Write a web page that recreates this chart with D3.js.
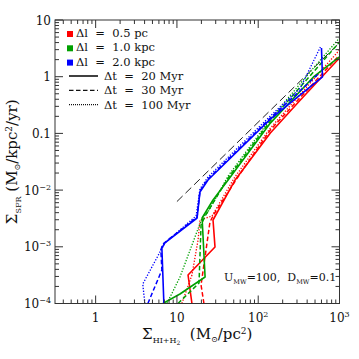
<!DOCTYPE html>
<html><head><meta charset="utf-8">
<script src="https://cdn.jsdelivr.net/npm/d3@7"></script>
<style>body{margin:0;background:#fff}svg{display:block}text{font-family:"DejaVu Serif",serif;fill:#111}</style>
</head><body>
<script>
// ---- data ----
const xTicks = [1, 10, 100, 1000];
const xTickLabels = [["1",""],["10",""],["10","2"],["10","3"]];
const yTicks = [10, 1, 0.1, 0.01, 0.001, 0.0001];
const yTickLabels = [["10",""],["1",""],["0.1",""],["10","\u22122"],["10","\u22123"],["10","\u22124"]];

const blueSolidX  = [6.91, 6.53, 7.11, 17.7, 19.2, 24.1, 141, 617, 600];
const blueSolidY  = [1.0e-4, 9.53e-4, 1.17e-3, 3.22e-3, 9.24e-3, 0.0151, 0.179, 0.99, 3.21];
const blueDashX   = [4.39, 6.53, 6.34, 6.71, 17.7, 19.2, 24.1, 141, 551];
const blueDashY   = [1.0e-4, 3.90e-4, 8.79e-4, 1.12e-3, 3.36e-3, 9.63e-3, 0.0157, 0.187, 1.12];
const blueDotX    = [4.03, 3.80, 7.11, 17.2, 19.2, 24.1, 141, 330, 582];
const blueDotY    = [1.0e-4, 2.21e-4, 1.17e-3, 3.49e-3, 0.0104, 0.0170, 0.203, 0.632, 3.34];

const greenSolidX = [6.71, 10.9, 22.2, 20.4, 27.8, 42.6, 141, 478, 1000];
const greenSolidY = [1.0e-4, 1.47e-4, 2.93e-4, 3.22e-3, 6.69e-3, 0.0151, 0.152, 0.99, 2.23];
const greenDashX  = [10.3, 18.7, 19.8, 22.2, 42.6, 141, 478, 1000];
const greenDashY  = [1.0e-4, 2.30e-4, 2.42e-3, 3.49e-3, 0.0163, 0.166, 1.21, 4.09];
const greenDotX   = [7.53, 10.9, 20.4, 24.1, 42.6, 141, 478, 1000];
const greenDotY   = [1.0e-4, 2.93e-4, 3.22e-3, 4.11e-3, 0.0177, 0.179, 1.42, 4.82];

const redSolidX   = [15.3, 13.7, 29.4, 27.8, 52.0, 141, 330, 1000];
const redSolidY   = [1.0e-4, 3.18e-4, 9.91e-4, 2.97e-3, 0.0151, 0.1016, 0.388, 2.14];
const redDashX    = [21.5, 19.8, 22.8, 25.5, 28.6, 55.1, 141, 1000];
const redDashY    = [1.0e-4, 2.12e-4, 8.79e-4, 2.74e-3, 3.79e-3, 0.0163, 0.115, 2.41];
const redDotX     = [11.5, 15.3, 18.2, 19.2, 27.0, 50.6, 141, 1000];
const redDotY     = [1.0e-4, 3.18e-4, 1.32e-3, 2.97e-3, 3.49e-3, 0.0163, 0.124, 2.96];

// Kennicutt-Schmidt reference line
const ksX = [10, 1000];
const ksY = [2.5e-4 * Math.pow(10, 1.4), 2.5e-4 * Math.pow(1000, 1.4)];

const legendRes = ["0.5 pc", "1.0 kpc", "2.0 kpc"];
const legendResColors = ["#ff0000", "#00a000", "#0000ff"];
const legendTimes = ["20 Myr", "30 Myr", "100 Myr"];

// ---- chart ----
const W = 359, H = 359;
const L = 55, R = 339.5, T = 20, B = 303.5;
const svg = d3.select("body").append("svg").attr("width", W).attr("height", H);
svg.append("rect").attr("width", W).attr("height", H).attr("fill", "#fff");

const x = d3.scaleLog().domain([Math.pow(10, -0.5), 1000]).range([L, R]);
const y = d3.scaleLog().domain([1e-4, 10]).range([B, T]);

svg.append("clipPath").attr("id", "clip").append("rect")
  .attr("x", L).attr("y", T).attr("width", R - L).attr("height", B - T);

const dashes = { solid: null, dash: "4.5,2.5", dot: "1.3,1.6" };
const widths = { solid: 1.6, dash: 1.5, dot: 1.3 };
const series = [
  ["#ff0000", "dot", redDotX, redDotY],
  ["#ff0000", "dash", redDashX, redDashY],
  ["#ff0000", "solid", redSolidX, redSolidY],
  ["#00a000", "dot", greenDotX, greenDotY],
  ["#00a000", "dash", greenDashX, greenDashY],
  ["#00a000", "solid", greenSolidX, greenSolidY],
  ["#0000ff", "dot", blueDotX, blueDotY],
  ["#0000ff", "dash", blueDashX, blueDashY],
  ["#0000ff", "solid", blueSolidX, blueSolidY],
];
const line = d3.line().x(d => x(d[0])).y(d => y(d[1]));
const g = svg.append("g").attr("clip-path", "url(#clip)");
g.append("path").datum(d3.zip(ksX, ksY)).attr("d", line)
  .attr("fill", "none").attr("stroke", "#222").attr("stroke-width", 1)
  .attr("stroke-dasharray", "8,4");
series.forEach(([c, s, xs, ys]) => {
  g.append("path").datum(d3.zip(xs, ys)).attr("d", line)
    .attr("fill", "none").attr("stroke", c).attr("stroke-width", widths[s])
    .attr("stroke-linejoin", "round")
    .attr("stroke-dasharray", dashes[s]);
});

// frame
svg.append("rect").attr("x", L).attr("y", T).attr("width", R - L).attr("height", B - T)
  .attr("fill", "none").attr("stroke", "#333").attr("stroke-width", 1);

// ticks (inward on all four sides)
const tk = svg.append("g").attr("stroke", "#333").attr("stroke-width", 1);
function minors(lo, hi) {
  const out = [];
  for (let e = Math.floor(Math.log10(lo)); e <= Math.ceil(Math.log10(hi)); e++)
    for (let m = 2; m <= 9; m++) { const v = m * Math.pow(10, e); if (v >= lo && v <= hi) out.push(v); }
  return out;
}
const xMin = minors(x.domain()[0], 1000), yMin = minors(1e-4, 10);
const MAJ = 8, MIN = 4;
xTicks.forEach(v => {
  tk.append("line").attr("x1", x(v)).attr("x2", x(v)).attr("y1", B).attr("y2", B - MAJ);
  tk.append("line").attr("x1", x(v)).attr("x2", x(v)).attr("y1", T).attr("y2", T + MAJ);
});
xMin.forEach(v => {
  tk.append("line").attr("x1", x(v)).attr("x2", x(v)).attr("y1", B).attr("y2", B - MIN);
  tk.append("line").attr("x1", x(v)).attr("x2", x(v)).attr("y1", T).attr("y2", T + MIN);
});
yTicks.forEach(v => {
  tk.append("line").attr("y1", y(v)).attr("y2", y(v)).attr("x1", L).attr("x2", L + MAJ);
  tk.append("line").attr("y1", y(v)).attr("y2", y(v)).attr("x1", R).attr("x2", R - MAJ);
});
yMin.forEach(v => {
  tk.append("line").attr("y1", y(v)).attr("y2", y(v)).attr("x1", L).attr("x2", L + MIN);
  tk.append("line").attr("y1", y(v)).attr("y2", y(v)).attr("x1", R).attr("x2", R - MIN);
});

// tick labels
function lab(t, base, sup) {
  t.append("tspan").text(base);
  if (sup) t.append("tspan").attr("dy", -5).attr("font-size", 8).text(sup);
}
xTicks.forEach((v, i) => {
  const t = svg.append("text").attr("x", x(v)).attr("y", 322).attr("font-size", 12)
    .attr("text-anchor", "middle");
  lab(t, xTickLabels[i][0], xTickLabels[i][1]);
});
yTicks.forEach((v, i) => {
  const t = svg.append("text").attr("x", 51).attr("y", y(v) + 4.5).attr("font-size", 12)
    .attr("text-anchor", "end");
  lab(t, yTickLabels[i][0], yTickLabels[i][1]);
});

// axis titles
const xt = svg.append("text").attr("x", (L + R) / 2).attr("y", 339).attr("font-size", 15)
  .attr("text-anchor", "middle");
xt.append("tspan").text("\u03A3");
xt.append("tspan").attr("dy", 4).attr("font-size", 8).text("HI+H");
xt.append("tspan").attr("dy", 2).attr("font-size", 6).text("2");
xt.append("tspan").attr("dy", -6).attr("xml:space", "preserve").text("  (M");
xt.append("tspan").attr("dy", 3).attr("font-size", 8).text("\u2299");
xt.append("tspan").attr("dy", -3).text("/pc");
xt.append("tspan").attr("dy", -5).attr("font-size", 9).text("2");
xt.append("tspan").attr("dy", 5).text(")");

const yt = svg.append("text").attr("transform", `translate(17,${(T + B) / 2}) rotate(-90)`)
  .attr("font-size", 15).attr("text-anchor", "middle");
yt.append("tspan").text("\u03A3");
yt.append("tspan").attr("dy", 4).attr("font-size", 8).text("SFR");
yt.append("tspan").attr("dy", -4).attr("xml:space", "preserve").text(" (M");
yt.append("tspan").attr("dy", 3).attr("font-size", 8).text("\u2299");
yt.append("tspan").attr("dy", -3).text("/kpc");
yt.append("tspan").attr("dy", -5).attr("font-size", 9).text("2");
yt.append("tspan").attr("dy", 5).text("/yr)");

// legend
legendRes.forEach((s, i) => {
  const yy = 37 + i * 14.3;
  svg.append("rect").attr("x", 67).attr("y", yy - 6).attr("width", 6).attr("height", 6)
    .attr("fill", legendResColors[i]);
  svg.append("text").attr("x", 76).attr("y", yy).attr("font-size", 11.5)
    .attr("xml:space", "preserve").text("\u0394l  =  " + s);
});
["solid", "dash", "dot"].forEach((s, i) => {
  const yy = 80 + i * 14.3;
  svg.append("line").attr("x1", 69).attr("x2", 98).attr("y1", yy - 4).attr("y2", yy - 4)
    .attr("stroke", "#111").attr("stroke-width", s === "solid" ? 1.6 : 1.3)
    .attr("stroke-dasharray", s === "dash" ? "4.5,2.5" : s === "dot" ? "1,1" : null);
  svg.append("text").attr("x", 104).attr("y", yy).attr("font-size", 11.5)
    .attr("xml:space", "preserve").text("\u0394t  =  " + legendTimes[i]);
});

// annotation
const an = svg.append("text").attr("x", 224).attr("y", 281).attr("font-size", 11)
  .attr("xml:space", "preserve");
an.append("tspan").text("U");
an.append("tspan").attr("dy", 3).attr("font-size", 6.5).text("MW");
an.append("tspan").attr("dy", -3).text("=100,  D");
an.append("tspan").attr("dy", 3).attr("font-size", 6.5).text("MW");
an.append("tspan").attr("dy", -3).text("=0.1");
</script>
</body></html>
